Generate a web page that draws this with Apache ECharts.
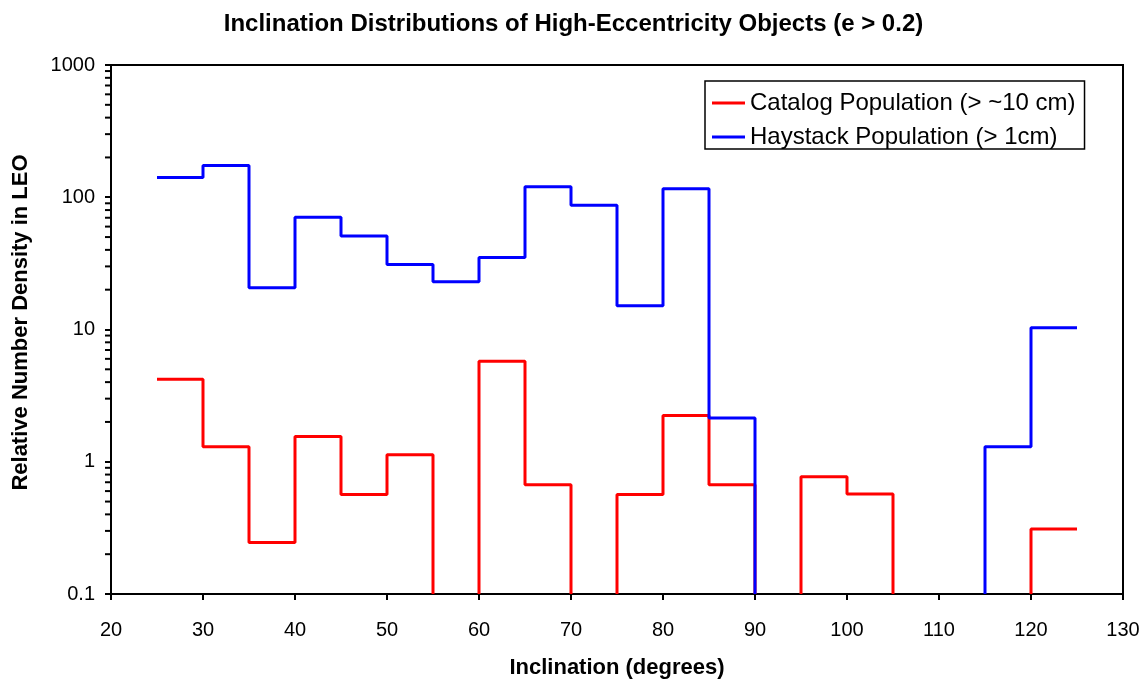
<!DOCTYPE html>
<html><head><meta charset="utf-8">
<script src="https://cdn.jsdelivr.net/npm/echarts@6/dist/echarts.min.js"></script>
<style>html,body{margin:0;padding:0;background:#fff}#c{width:1147px;height:684px}</style>
</head><body><div id="c"></div>
<script>
const binStart = [25,30,35,40,45,50,55,60,65,70,75,80,85,90,95,100,105,110,115,120];
const binWidth = 5;
const catalog = [4.2,1.3,0.245,1.55,0.565,1.13,null,5.75,0.67,null,0.565,2.24,0.67,null,0.77,0.57,null,null,null,0.31];
const haystack = [141,174,20.7,70.7,51,31,23,35,120,87,15.1,116,2.14,null,null,null,null,null,1.3,10.3];
const seriesNames = ['Catalog Population (> ~10 cm)','Haystack Population (> 1cm)'];
const xTicks = [20,30,40,50,60,70,80,90,100,110,120,130];
const yTicks = [0.1,1,10,100,1000];
const FLOOR = 0.1;

function stepPath(vals){
  const pts=[];
  for(let i=0;i<vals.length;i++){
    const v=vals[i], lo=binStart[i], hi=lo+binWidth;
    const prev = i>0 ? vals[i-1] : undefined;
    if(v==null){
      if(i>0 && prev!=null){ pts.push([lo,FLOOR]); pts.push([lo,'-']); }
      continue;
    }
    if(i>0 && prev==null) pts.push([lo,FLOOR]);
    pts.push([lo,v]); pts.push([hi,v]);
  }
  return pts;
}
const minorVals=[];
for(let k=-1;k<=2;k++) for(let m=2;m<=9;m++) minorVals.push([20, m*Math.pow(10,k)]);

const FONT='Liberation Sans';
const chart = echarts.init(document.getElementById('c'));
chart.setOption({
  animation:false,
  backgroundColor:'#fff',
  title:{text:'Inclination Distributions of High-Eccentricity Objects (e > 0.2)',left:'center',top:7,
    textStyle:{fontFamily:FONT,fontSize:24,fontWeight:'bold',color:'#000'}},
  grid:{left:111,right:24,top:65,bottom:84,show:true,borderColor:'#000',borderWidth:2},
  legend:{data:seriesNames,orient:'vertical',left:705,top:81,
    backgroundColor:'#fff',borderColor:'#000',borderWidth:1.5,borderRadius:0,
    padding:[10,9,0,7],itemGap:10,itemWidth:33,itemHeight:3,icon:'rect',
    textStyle:{fontFamily:FONT,fontSize:24,color:'#000'}},
  xAxis:{type:'value',min:20,max:130,interval:10,
    name:'Inclination (degrees)',nameLocation:'middle',nameGap:63,
    nameTextStyle:{fontFamily:FONT,fontSize:22,fontWeight:'bold',color:'#000'},
    axisLine:{lineStyle:{color:'#000',width:2}},
    axisTick:{length:6,lineStyle:{color:'#000',width:2}},
    axisLabel:{margin:26,fontFamily:FONT,fontSize:20,color:'#000'},
    splitLine:{show:false}},
  yAxis:{type:'log',logBase:10,min:0.1,max:1000,
    name:'Relative Number Density in LEO',nameLocation:'middle',nameGap:79,
    nameTextStyle:{fontFamily:FONT,fontSize:22,fontWeight:'bold',color:'#000',padding:[0,0,0,14]},
    axisLine:{show:true,lineStyle:{color:'#000',width:2}},
    axisTick:{show:true,length:6,lineStyle:{color:'#000',width:2}},
    axisLabel:{margin:16,fontFamily:FONT,fontSize:20,color:'#000',
      formatter:v=>{const t=yTicks.find(t=>Math.abs(t-v)/t<1e-6);return t===undefined?'':String(t);}},
    splitLine:{show:false}},
  series:[
    {name:seriesNames[0],type:'line',data:stepPath(catalog),showSymbol:false,symbol:'none',
      lineStyle:{color:'#ff0000',width:3},itemStyle:{color:'#ff0000'},connectNulls:false,z:3},
    {name:seriesNames[1],type:'line',data:stepPath(haystack),showSymbol:false,symbol:'none',
      lineStyle:{color:'#0000ff',width:3},itemStyle:{color:'#0000ff'},connectNulls:false,z:4},
    {type:'custom',data:minorVals,encode:{x:0,y:1},clip:false,silent:true,z:5,
      renderItem:(params,api)=>{
        const p=api.coord([api.value(0),api.value(1)]);
        return {type:'line',shape:{x1:p[0]-6,y1:p[1],x2:p[0],y2:p[1]},style:{stroke:'#000',lineWidth:2}};
      }}
  ]
});
</script></body></html>
